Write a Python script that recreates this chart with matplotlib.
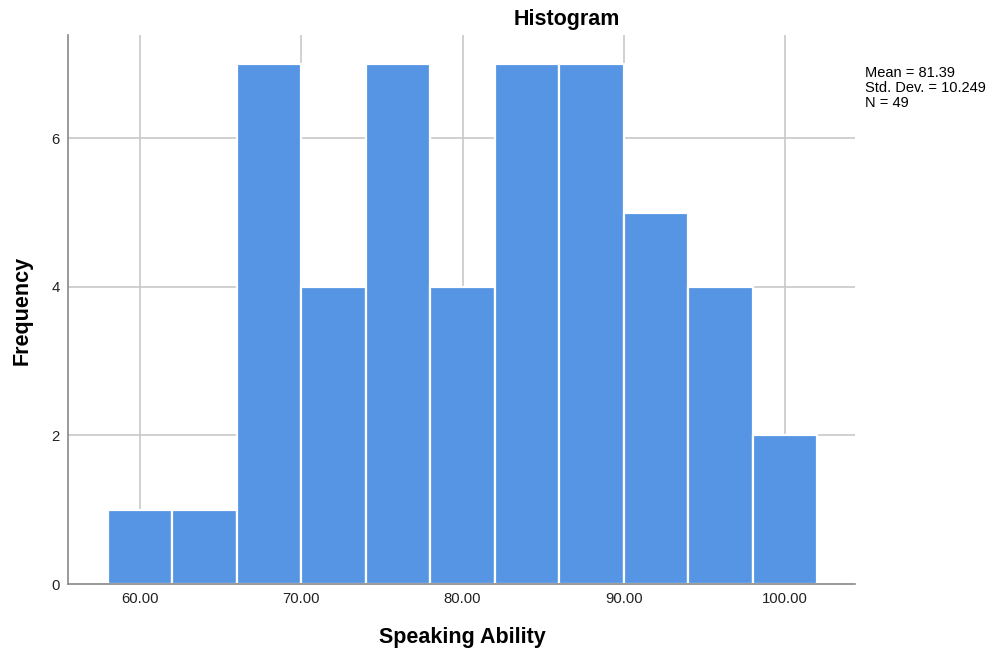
import matplotlib
matplotlib.use("Agg")
import matplotlib.pyplot as plt
import numpy as np

# Histogram bins and counts
bin_edges = [58, 62, 66, 70, 74, 78, 82, 86, 90, 94, 98, 102]
counts = [1, 1, 7, 4, 7, 4, 7, 7, 5, 4, 2]
x_ticks = [60, 70, 80, 90, 100]
y_ticks = [0, 2, 4, 6]
stats_text = "Mean = 81.39\nStd. Dev. = 10.249\nN = 49"

plt.rcParams["font.family"] = ["Liberation Sans", "DejaVu Sans"]

fig = plt.figure(figsize=(9.86, 6.53), dpi=100)
ax = fig.add_axes([68 / 986, 69 / 653, 787 / 986, 549 / 653])

edges = np.array(bin_edges, dtype=float)
ax.bar(edges[:-1], counts, width=np.diff(edges), align="edge",
       color="#5595e3", edgecolor="white", linewidth=1.6, zorder=2)

ax.set_xlim(55.53, 104.34)
ax.set_ylim(0, 7.39)
ax.set_xticks(x_ticks)
ax.set_xticklabels([f"{v:.2f}" for v in x_ticks])
ax.set_yticks(y_ticks)
ax.tick_params(length=0, labelsize=10.7, colors="#222222", pad=6)

for v in x_ticks:
    ax.axvline(v, color="#c8c8c8", linewidth=1.2, zorder=1)
for v in y_ticks[1:]:
    ax.axhline(v, color="#c8c8c8", linewidth=1.2, zorder=1)

for side in ["top", "right"]:
    ax.spines[side].set_visible(False)
ax.spines["left"].set_color("#888888")
ax.spines["bottom"].set_color("#888888")
ax.spines["left"].set_linewidth(1.2)
ax.spines["bottom"].set_linewidth(1.2)

fig.text(567 / 986, 1 - 19 / 653, "Histogram", ha="center", va="center",
         fontsize=15.5, fontweight="bold")
fig.text(462 / 986, 1 - 637 / 653, "Speaking Ability", ha="center", va="center",
         fontsize=15.5, fontweight="bold")
fig.text(22 / 986, 1 - 310 / 653, "Frequency", ha="center", va="center",
         rotation=90, fontsize=15.5, fontweight="bold")
fig.text(865 / 986, 1 - 66 / 653, stats_text, ha="left", va="top",
         fontsize=10.5, linespacing=1.08)

fig.savefig("out.png", dpi=100)
